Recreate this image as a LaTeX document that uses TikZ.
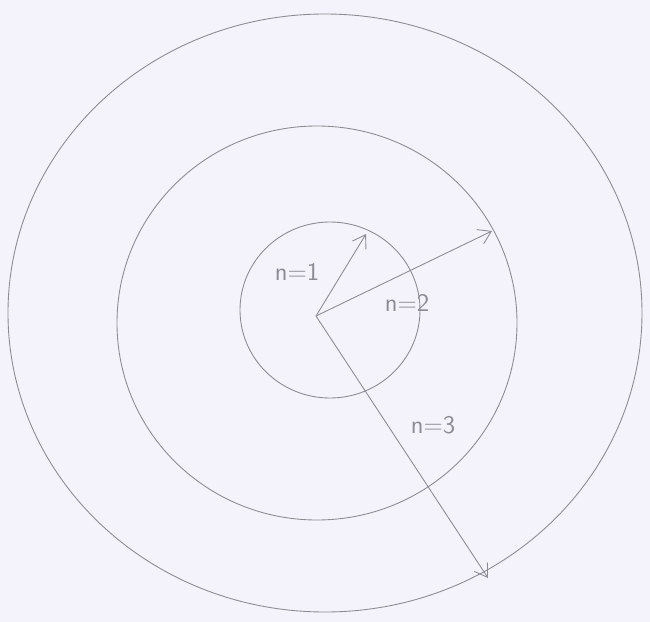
\documentclass[tikz,border=0pt]{standalone}
\usepackage{xcolor}
\usepackage{tikz}
\usetikzlibrary{arrows.meta,calc,positioning}
\definecolor{kagit}{HTML}{F4F2FA}
\definecolor{kursun}{HTML}{8C8C92}

\begin{document}
\begin{tikzpicture}[x=0.02cm, y=-0.02cm, every node/.style={font=\sffamily\Large,text=kursun},
  yorunge/.style={draw=kursun,line width=0.5pt},
  yaricap/.style={draw=kursun,line width=0.5pt,-{Straight Barb[length=7pt,width=9pt]}}]
\fill[kagit] (0,0) rectangle (650,622);
\useasboundingbox (0,0) rectangle (650,622);
% yorungeler
\draw[yorunge] (330,310) ellipse [x radius=90, y radius=88];
\draw[yorunge] (317,323) ellipse [x radius=200, y radius=197];
\draw[yorunge] (325,313) ellipse [x radius=317, y radius=299];
% yaricaplar
\coordinate (o) at (316,316);
\coordinate (r1) at (366,234);
\coordinate (r2) at (492,231);
\coordinate (r3) at (488,578);
\draw[yaricap] (o)--(r1);
\draw[yaricap] (o)--(r2);
\draw[yaricap] (o)--(r3);
\node (e1) at (297,272) {n=1};
\node (e2) at (407,303) {n=2};
\node (e3) at (433,425) {n=3};
\end{tikzpicture}
\end{document}
